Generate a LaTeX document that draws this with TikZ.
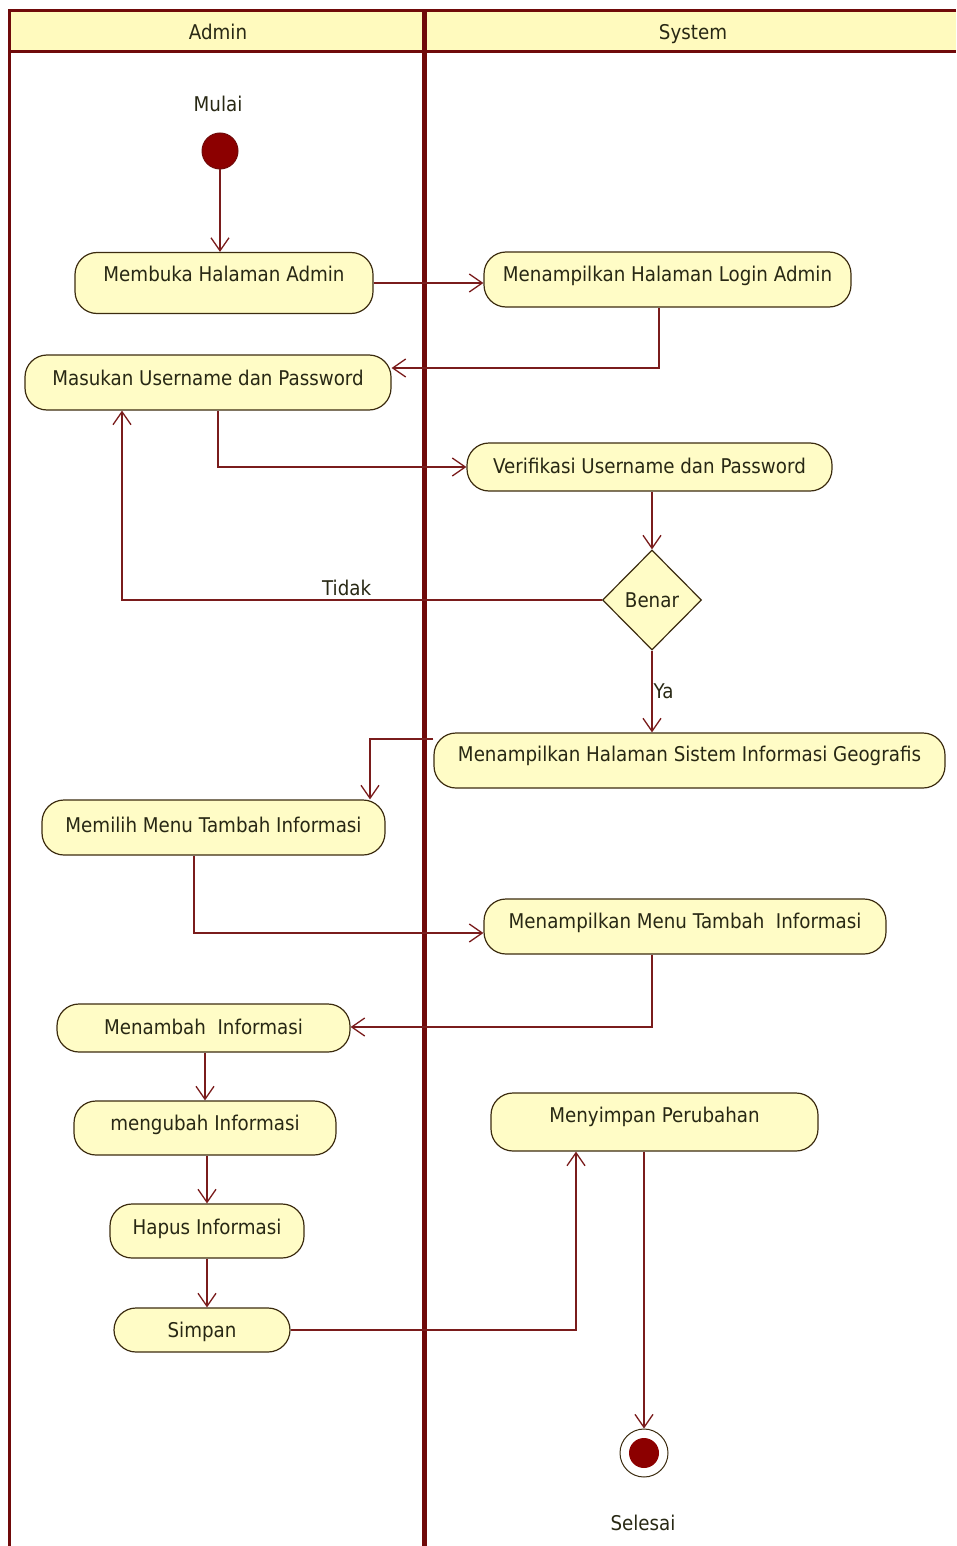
\documentclass[tikz,border=0pt]{standalone}
\usepackage{fontspec}
\setmainfont{DejaVu Sans}[FakeStretch=0.9]
\usetikzlibrary{arrows.meta,shapes.geometric}

\definecolor{lane}{RGB}{112,10,10}
\definecolor{flowred}{RGB}{122,28,28}
\definecolor{actfill}{RGB}{255,252,198}
\definecolor{headfill}{RGB}{255,250,190}
\definecolor{actline}{RGB}{60,44,16}
\definecolor{ink}{RGB}{40,40,20}
\definecolor{dotred}{RGB}{140,0,0}

\begin{document}
\begin{tikzpicture}[x=1pt,y=-1pt,
  font=\fontsize{20.3}{24}\selectfont,
  every node/.style={text=ink},
  act/.style={rectangle, rounded corners=22pt, draw=actline, line width=1.2pt,
    fill=actfill, inner sep=0pt, text height=15pt, text depth=#1},
  act/.default=8pt,
  decision/.style={diamond, draw=actline, line width=1.2pt, fill=actfill,
    inner sep=0pt, minimum width=99pt, minimum height=100pt,
    text height=15pt, text depth=0pt},
  startdot/.style={circle, draw=lane, line width=1pt, fill=dotred,
    minimum size=36pt, inner sep=0pt},
  enddot/.style={circle, draw=actline, line width=1pt, fill=white,
    minimum size=48pt, inner sep=0pt,
    path picture={\fill[dotred] (path picture bounding box.center) circle (15pt);}},
  flow/.style={draw=flowred, line width=1.3pt,
    -{Straight Barb[length=13pt,width=18pt]}},
  lanerule/.style={draw=lane, line width=3pt},
]
\useasboundingbox (0,0) rectangle (956,1546);

% swimlane frame
\fill[headfill] (9,11) rectangle (956,52);
\draw[lanerule] (956,11) -- (9,11) -- (9,1546);
\draw[lanerule] (9,52) -- (956,52);
\draw[lanerule, line width=5pt] (424.5,11) -- (424.5,1546);
\node[text height=15pt, text depth=2pt] (adminlane) at (218,33) {Admin};
\node[text height=15pt, text depth=2pt] (systemlane) at (693,33) {System};

% start
\node (mulai) at (218,104) {Mulai};
\node[startdot] (start) at (220,151) {};

% activities
\node[act=19pt, minimum width=298pt, minimum height=61pt] (membuka) at (224,283) {Membuka Halaman Admin};
\node[act=11pt, minimum width=367pt, minimum height=55pt] (login) at (667.5,279.5) {Menampilkan Halaman Login Admin};
\node[act=9pt, minimum width=366pt, minimum height=55pt] (masukan) at (208,382.5) {Masukan Username dan Password};
\node[act=3pt, minimum width=365pt, minimum height=48pt] (verif) at (649.5,467) {Verifikasi Username dan Password};
\node[decision] (benar) at (652,600) {Benar};
\node[act=13pt, minimum width=511pt, minimum height=55pt] (geo) at (689.5,760.5) {Menampilkan Halaman Sistem Informasi Geografis};
\node[act=6pt, minimum width=343pt, minimum height=55pt] (memilih) at (213.5,827.5) {Memilih Menu Tambah Informasi};
\node[act=11pt, minimum width=402pt, minimum height=55pt] (menu) at (685,926.5) {Menampilkan Menu Tambah\ \ Informasi};
\node[act=2pt, minimum width=293pt, minimum height=48pt] (menambah) at (203.5,1028) {Menambah\ \ Informasi};
\node[act=10pt, minimum width=262pt, minimum height=54pt] (mengubah) at (205,1128) {mengubah Informasi};
\node[act=8pt, minimum width=194pt, minimum height=54pt] (hapus) at (207,1231) {Hapus Informasi};
\node[act=0pt, minimum width=176pt, minimum height=44pt] (simpan) at (202,1330) {Simpan};
\node[act=14pt, minimum width=327pt, minimum height=58pt] (menyimpan) at (654.5,1122) {Menyimpan Perubahan};

% end
\node[enddot] (end) at (644,1453) {};
\node (selesai) at (643,1523) {Selesai};

% control flow
\draw[flow] (start.south) -- (start.south |- membuka.north);
\draw[flow] (membuka.east) -- (login.west |- membuka.east);
\draw[flow] (login.south -| 659,0) |- (masukan.east |- 0,368);
\draw[flow] (masukan.south -| 218,0) |- (verif.west);
\draw[flow] (benar.north |- verif.south) -- (benar.north);
\draw[flow] (benar.west) -| node[pos=0.266, above] {Tidak} (masukan.south -| 122,0);
\draw[flow] (benar.south) -- node[pos=0.5, right, inner sep=1pt] {Ya} (geo.north -| benar.south);
\draw[flow] (geo.west |- 0,739) -| (memilih.north -| 370,0);
\draw[flow] (memilih.south -| 194,0) |- (menu.west |- 0,933);
\draw[flow] (menu.south -| 652,0) |- (menambah.east |- 0,1027);
\draw[flow] (menambah.south -| 205,0) -- (mengubah.north -| 205,0);
\draw[flow] (mengubah.south -| 207,0) -- (hapus.north -| 207,0);
\draw[flow] (hapus.south -| 207,0) -- (simpan.north -| 207,0);
\draw[flow] (simpan.east) -| (menyimpan.south -| 576,0);
\draw[flow] (end.north |- menyimpan.south) -- (end.north);
\end{tikzpicture}
\end{document}
